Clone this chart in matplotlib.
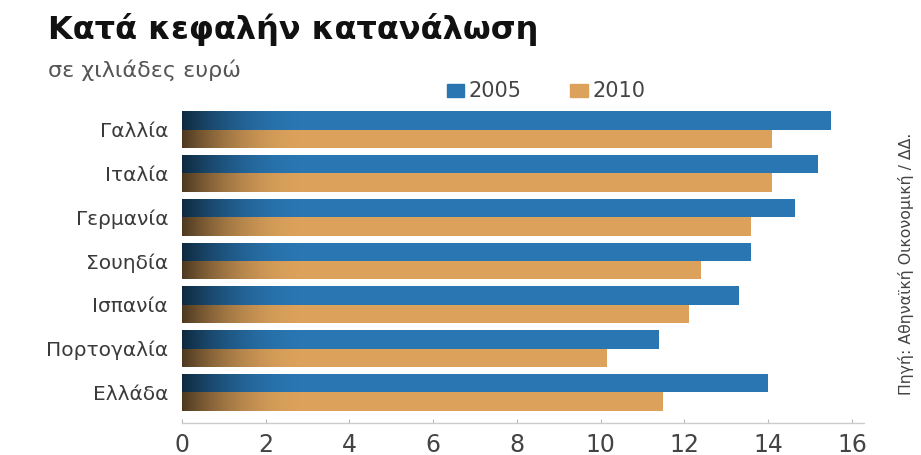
import matplotlib
matplotlib.use("Agg")
import matplotlib.pyplot as plt
import numpy as np

# data (thousand euros per capita)
countries = ["Γαλλία", "Ιταλία", "Γερμανία", "Σουηδία", "Ισπανία", "Πορτογαλία", "Ελλάδα"]
values_2005 = [15.5, 15.2, 14.65, 13.6, 13.3, 11.4, 14.0]
values_2010 = [14.1, 14.1, 13.6, 12.4, 12.1, 10.15, 11.5]
years = ["2005", "2010"]
xticks = [0, 2, 4, 6, 8, 10, 12, 14, 16]

blue = "#2a76b2"
orange = "#dca25c"
text_dark = "#3a3a3a"

fig = plt.figure(figsize=(9.21, 4.55), dpi=100)
ax = fig.add_axes([0.1976, 0.0703, 0.741, 0.699])

y = np.arange(len(countries))
h = 0.42
b1 = ax.barh(y - h / 2, values_2005, height=h, color=blue, edgecolor="none")
b2 = ax.barh(y + h / 2, values_2010, height=h, color=orange, edgecolor="none")

# dark shading at the left end of each bar
grad = np.zeros((1, 100, 4))
grad[0, :, 3] = 0.65 * np.linspace(1.0, 0.0, 100) ** 2
for p in list(b1) + list(b2):
    x0, y0 = p.get_x(), p.get_y()
    im = ax.imshow(grad, extent=[x0, x0 + 3.0, y0, y0 + p.get_height()],
                   aspect="auto", interpolation="bilinear", zorder=3)
    im.set_clip_path(p)

ax.set_xlim(0, 16.3)
ax.set_ylim(6.7, -0.56)
ax.set_xticks(xticks)
ax.set_xticklabels([str(t) for t in xticks], fontsize=17, color="#444444")
ax.set_yticks(y)
ax.set_yticklabels(countries, fontsize=14.5, color=text_dark)
ax.tick_params(axis="y", length=0, pad=10)
ax.tick_params(axis="x", length=3, direction="in", color="#bbbbbb", pad=7)
for s in ["top", "right", "left"]:
    ax.spines[s].set_visible(False)
ax.spines["bottom"].set_color("#cccccc")
ax.spines["bottom"].set_linewidth(1.0)

fig.text(0.052, 0.935, "Κατά κεφαλήν κατανάλωση", fontsize=23, fontweight="heavy",
         color="#111111", va="center", ha="left")
fig.text(0.052, 0.845, "σε χιλιάδες ευρώ", fontsize=16, color="#555555",
         va="center", ha="left")

# legend
for x, c, lab in [(0.485, blue, years[0]), (0.619, orange, years[1])]:
    fig.patches.append(plt.Rectangle((x, 0.787), 0.019, 0.028, color=c,
                                     transform=fig.transFigure, figure=fig))
    fig.text(x + 0.024, 0.801, lab, fontsize=15, color="#444444", va="center", ha="left")

fig.text(0.984, 0.42, "Πηγή: Αθηναϊκή Οικονομική / ΔΔ.", rotation=90, fontsize=11.3,
         color="#444444", va="center", ha="center")

fig.savefig("out.png", dpi=100)
